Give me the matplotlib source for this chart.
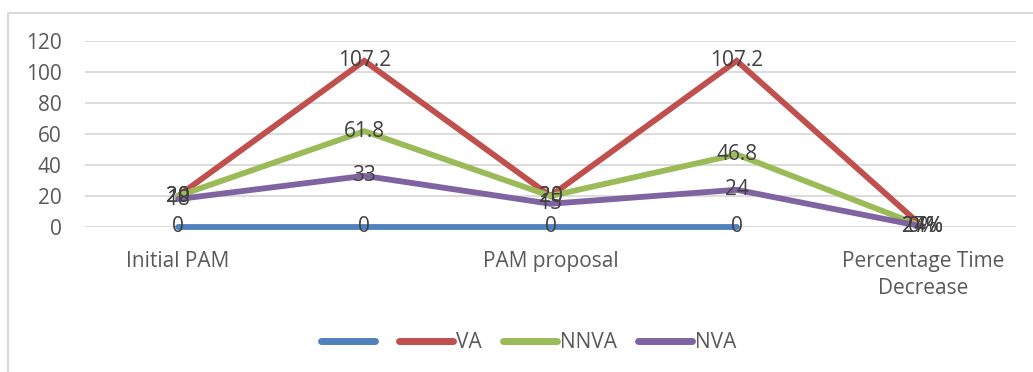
import matplotlib
matplotlib.use("Agg")
import matplotlib.pyplot as plt
from matplotlib.patches import Rectangle

plt.rcParams['font.family'] = ['Open Sans', 'DejaVu Sans']

categories = ["Initial PAM", "", "PAM proposal", "", "Percentage Time\nDecrease"]

series_names = ["", "VA", "NNVA", "NVA"]
blank_vals = [0, 0, 0, 0]
va_vals = [20, 107.2, 20, 107.2, 0.0]
nnva_vals = [20, 61.8, 20, 46.8, 0.24]
nva_vals = [18, 33, 15, 24, 0.27]

blank_labels = ["0", "0", "0", "0"]
va_labels = ["20", "107.2", "20", "107.2", "0%"]
nnva_labels = ["20", "61.8", "20", "46.8", "24%"]
nva_labels = ["18", "33", "15", "24", "27%"]

colors = ["#4F81BD", "#C0504D", "#9BBB59", "#8064A2"]
FS = 15

W, H = 1033, 372
fig = plt.figure(figsize=(W / 100, H / 100), dpi=100)
ax = fig.add_axes([85 / W, 1 - 227 / H, (1016 - 85) / W, (227 - 41) / H])

all_vals = [blank_vals, va_vals, nnva_vals, nva_vals]
all_labels = [blank_labels, va_labels, nnva_labels, nva_labels]

handles = []
for name, vals, col in zip(series_names, all_vals, colors):
    ln, = ax.plot(range(len(vals)), vals, color=col, lw=4.2, solid_capstyle='round',
                  solid_joinstyle='miter', clip_on=False, zorder=3)
    handles.append(ln)

for vals, labs in zip(all_vals, all_labels):
    for i, (v, t) in enumerate(zip(vals, labs)):
        ax.text(i, v, t, ha='center', va='center', fontsize=FS,
                color='#404040', zorder=5)

ax.set_xlim(-0.5, 4.5)
ax.set_ylim(0, 120)
ax.set_yticks(range(0, 121, 20))
ax.set_xticks(range(len(categories)))
ax.set_xticklabels(categories, fontsize=FS, color='#595959', linespacing=1.4)
ax.tick_params(axis='y', length=0, pad=17, labelsize=FS, labelcolor='#595959')
ax.tick_params(axis='x', length=0, pad=17)
ax.grid(axis='y', color='#D9D9D9', lw=1.3)
ax.set_axisbelow(True)
for s in ax.spines.values():
    s.set_visible(False)

leg = fig.legend(handles, series_names, loc='center',
                 bbox_to_anchor=(0.512, 1 - 343 / H), ncol=4,
                 frameon=False, fontsize=FS, handlelength=2.6,
                 handletextpad=0.15, columnspacing=1.0)
for t in leg.get_texts():
    t.set_color('#595959')
for h in leg.get_lines():
    h.set_linewidth(5)

# chart frame
fig.patches.append(Rectangle((8 / W, -0.2), 1.2, 1.2 - 13 / H,
                             transform=fig.transFigure, fill=False,
                             edgecolor='#D9D9D9', lw=1.5))

fig.savefig("out.png", dpi=100, facecolor='white')
